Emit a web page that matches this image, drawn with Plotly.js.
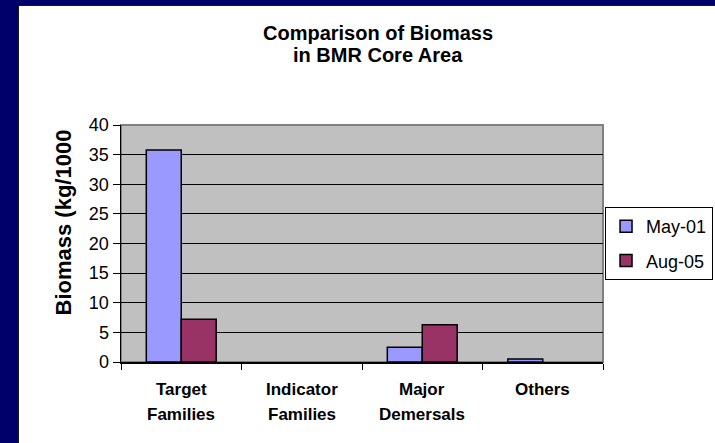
<!DOCTYPE html>
<html>
<head>
<meta charset="utf-8">
<script src="https://cdn.plot.ly/plotly-3.0.1.min.js"></script>
<style>
html,body{margin:0;padding:0;width:715px;height:443px;overflow:hidden;background:#00006b;}
#frame{position:absolute;left:18px;top:5px;width:697px;height:438px;background:#1a1a1a;}
#chart{position:absolute;left:19px;top:6px;width:696px;height:437px;background:#fff;}
</style>
</head>
<body>
<div id="frame"></div>
<div id="chart"></div>
<script>
const categories = ["Target Families", "Indicator Families", "Major Demersals", "Others"];
const labelLine1 = ["Target", "Indicator", "Major", "Others"];
const labelLine2 = ["Families", "Families", "Demersals", ""];
const seriesNames = ["May-01", "Aug-05"];
const may01 = [35.8, 0, 2.5, 0.5];
const aug05 = [7.2, 0, 6.3, 0];
const yTicks = [0, 5, 10, 15, 20, 25, 30, 35, 40];

const FONT = "Liberation Sans, Arial, sans-serif";
const lw = v => v.map(d => (d > 0 ? 1.5 : 0));

const traces = [
  {type: "bar", name: seriesNames[0], x: categories, y: may01, legendgroup: "a",
   marker: {color: "#9999ff", line: {color: "#000", width: lw(may01)}}},
  {type: "bar", name: seriesNames[1], x: categories, y: aug05, legendgroup: "b",
   marker: {color: "#993366", line: {color: "#000", width: lw(aug05)}}}
];

const annotations = [];
categories.forEach((c, i) => {
  annotations.push({x: c, xref: "x", y: 0, yref: "paper", yanchor: "middle", yshift: -27,
    text: "<b>" + labelLine1[i] + "</b>", showarrow: false,
    font: {family: FONT, size: 17, color: "#000"}});
  if (labelLine2[i]) annotations.push({x: c, xref: "x", y: 0, yref: "paper", yanchor: "middle", yshift: -52,
    text: "<b>" + labelLine2[i] + "</b>", showarrow: false,
    font: {family: FONT, size: 17, color: "#000"}});
});
annotations.push({xref: "paper", yref: "paper", x: 0.534, y: 1.0, yanchor: "middle", yshift: 92,
  text: "<b>Comparison of Biomass</b>", showarrow: false, font: {family: FONT, size: 20, color: "#000"}});
annotations.push({xref: "paper", yref: "paper", x: 0.534, y: 1.0, yanchor: "middle", yshift: 70,
  text: "<b>in BMR Core Area</b>", showarrow: false, font: {family: FONT, size: 20, color: "#000"}});
annotations.push({xref: "paper", yref: "paper", x: 0, xanchor: "center", xshift: -58, y: 0.5, yanchor: "middle", yshift: 21,
  textangle: -90, text: "<b>Biomass (kg/1000</b>", showarrow: false,
  font: {family: FONT, size: 22, color: "#000"}});

const layout = {
  width: 696, height: 437,
  margin: {l: 102, r: 112, t: 119, b: 81},
  paper_bgcolor: "#ffffff",
  plot_bgcolor: "#c0c0c0",
  barmode: "group",
  bargap: 0.42,
  bargroupgap: 0,
  showlegend: true,
  legend: {xref: "container", yref: "container", x: 0.842, xanchor: "left", y: 0.54, yanchor: "top",
    bgcolor: "#fff", bordercolor: "#000", borderwidth: 1, traceorder: "grouped",
    font: {family: FONT, size: 18, color: "#000"}, tracegroupgap: 8, itemwidth: 30},
  xaxis: {type: "category", showticklabels: false, ticks: "outside", tickson: "boundaries",
    ticklen: 6, tickcolor: "#000", showline: true, linecolor: "#000", linewidth: 1.5,
    showgrid: false, zeroline: false, fixedrange: true},
  yaxis: {range: [0, 40], tickvals: yTicks, ticktext: yTicks.map(String),
    ticks: "outside", ticklen: 7, tickcolor: "#000",
    showline: true, linecolor: "#000", linewidth: 1.5,
    showgrid: true, gridcolor: "#000", gridwidth: 1, zeroline: false,
    tickfont: {family: FONT, size: 18, color: "#000"}, fixedrange: true},
  shapes: [{type: "rect", xref: "paper", yref: "paper", x0: 0, x1: 1, y0: 0, y1: 1,
    line: {color: "#808080", width: 2}, layer: "below"}],
  annotations: annotations
};

Plotly.newPlot("chart", traces, layout, {displayModeBar: false, staticPlot: true});
</script>
</body>
</html>
